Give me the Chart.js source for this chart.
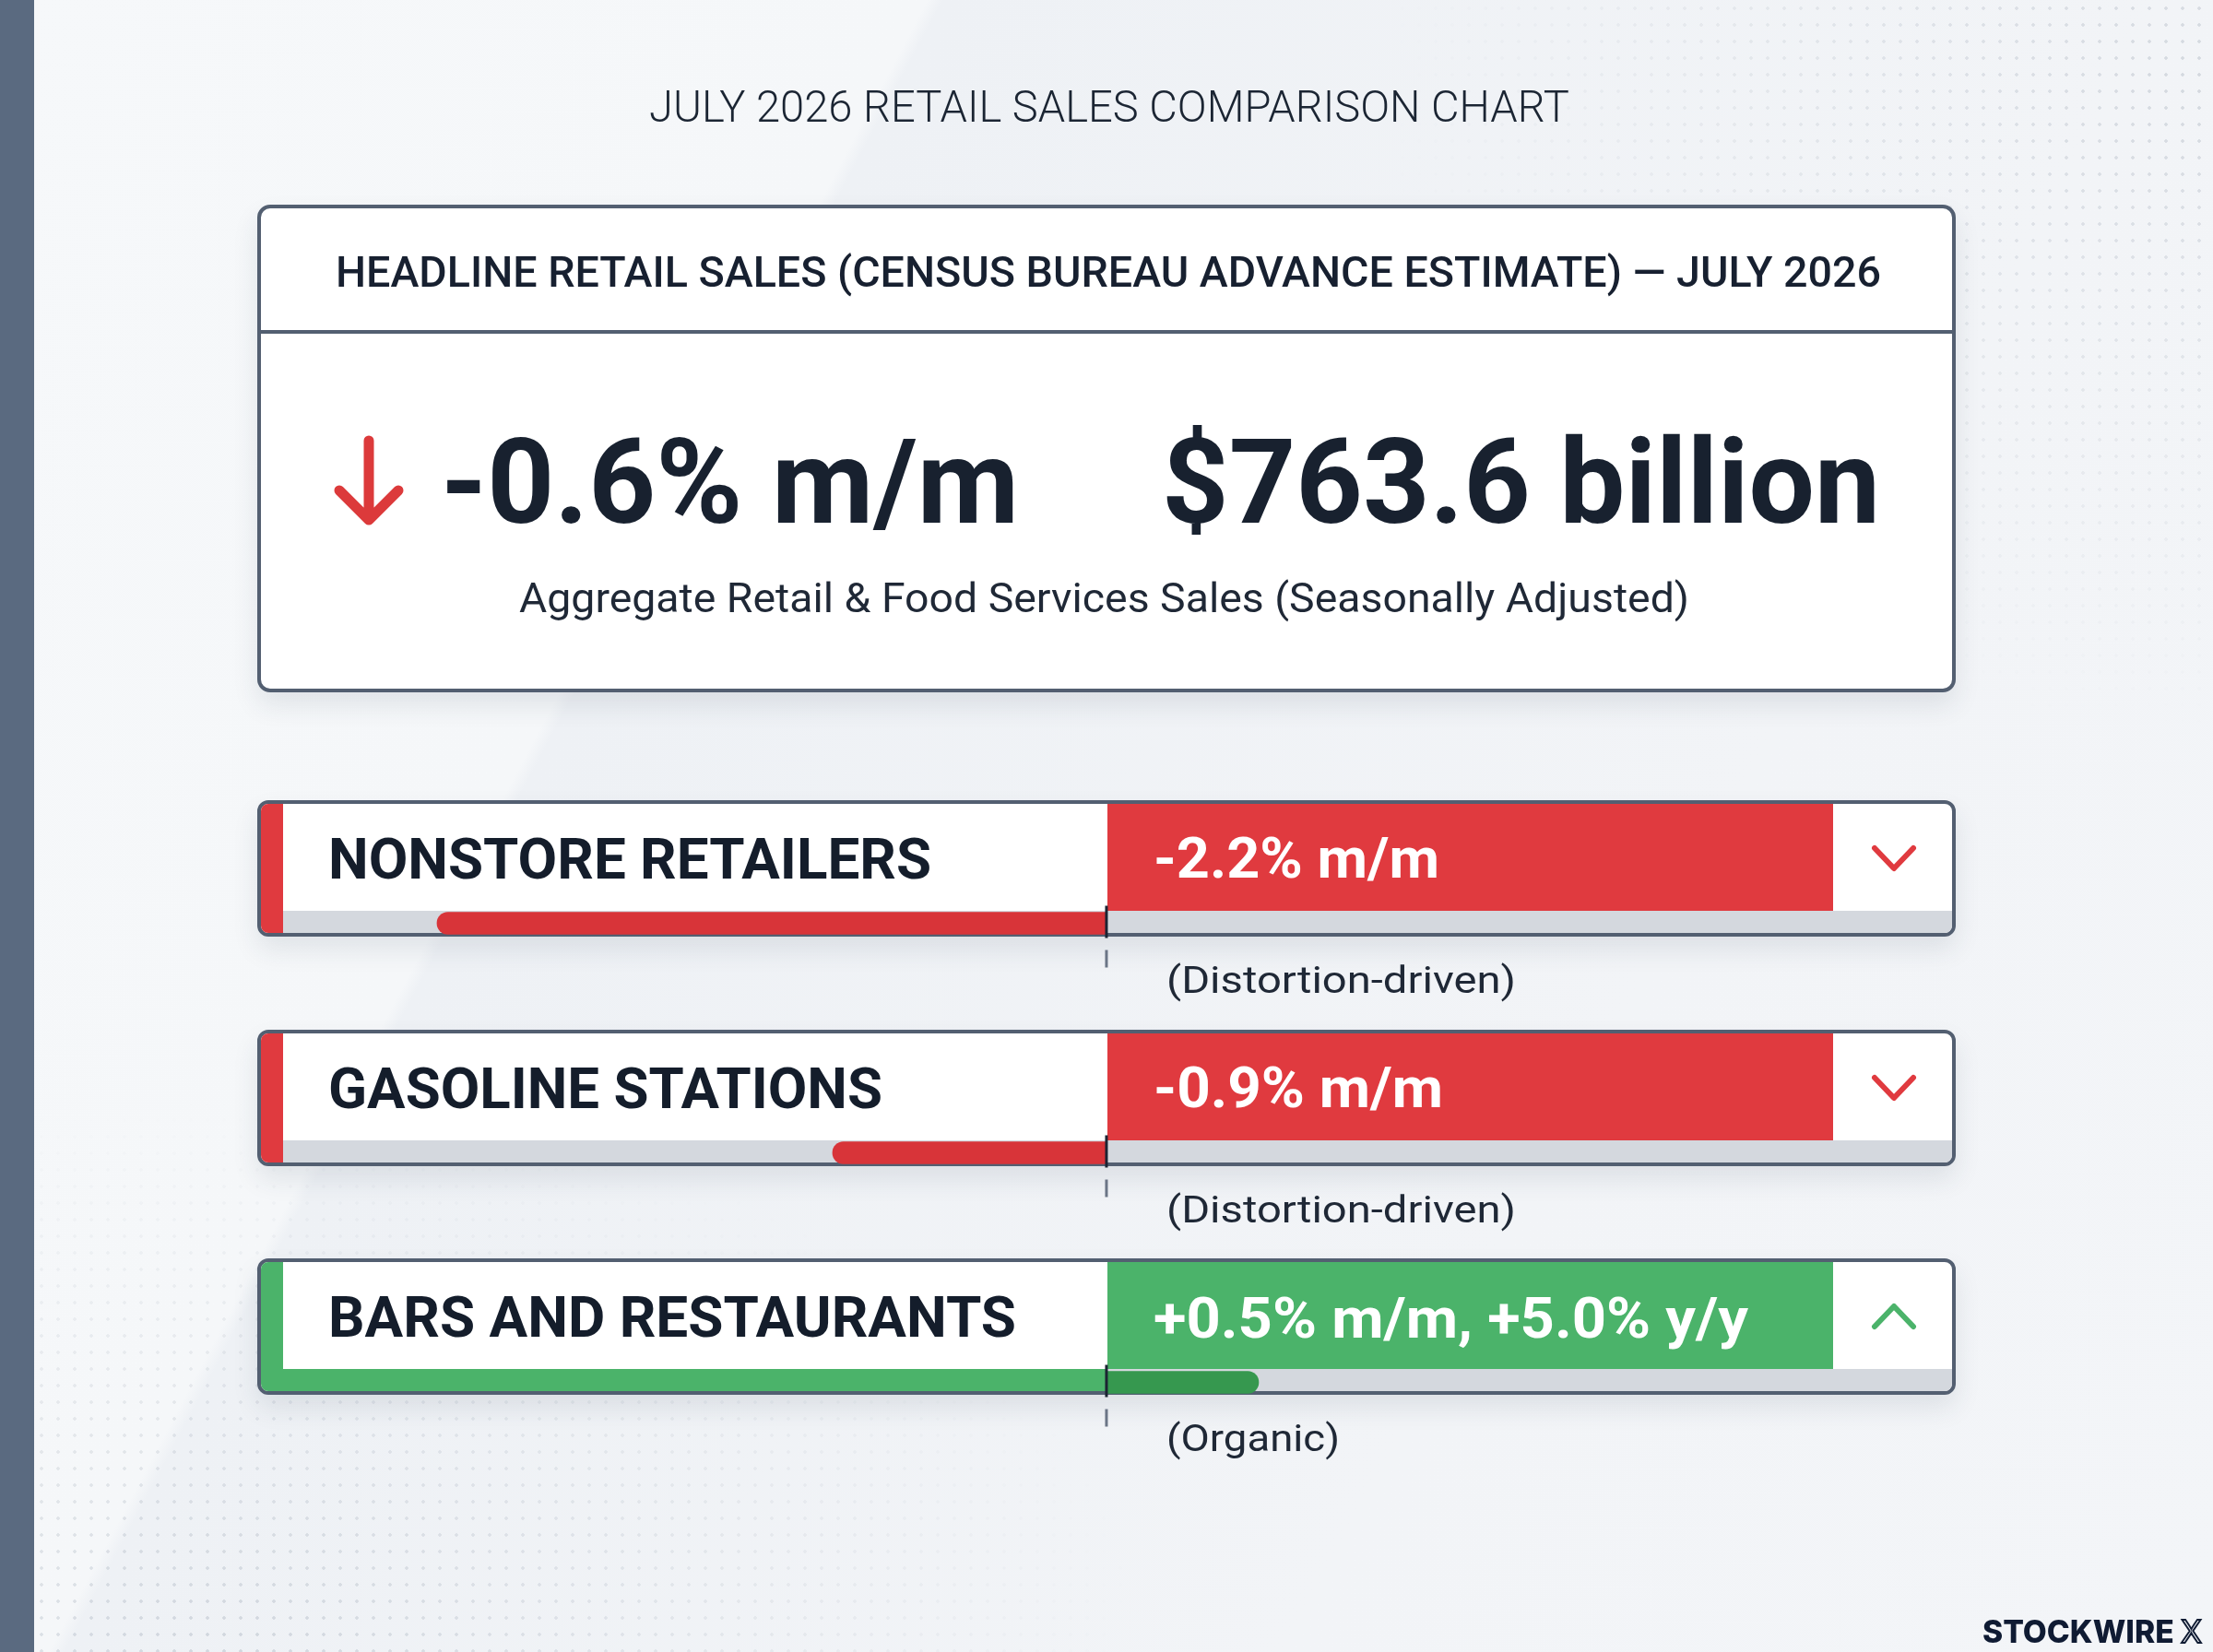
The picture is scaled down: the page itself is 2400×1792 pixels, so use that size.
<!DOCTYPE html>
<html>
<head>
<meta charset="utf-8">
<script src="https://cdn.jsdelivr.net/npm/chart.js@4.4.1/dist/chart.umd.min.js"></script>
<style>
html, body { margin: 0; padding: 0; }
body {
    width: 2400px; height: 1792px; position: relative; overflow: hidden;
    background: #f1f3f6; font-family: Roboto, "Noto Sans", sans-serif; color: #172030;
}
.bg {
    position: absolute; inset: 0;
    background: linear-gradient(118deg, #f6f8fa 0%, #f5f7f9 30%, #eef1f5 30.5%, #f2f4f7 70%, #f3f5f8 100%);
}
.dots {
    position: absolute; inset: 0;
    background-image: radial-gradient(circle, rgba(105, 120, 140, 0.22) 1.5px, transparent 2px);
    background-size: 18px 18px;
    -webkit-mask-image: radial-gradient(ellipse 900px 700px at 100% 5%, #000 0%, transparent 100%),
                        radial-gradient(ellipse 1000px 600px at 10% 100%, #000 0%, transparent 100%);
}
.strip { position: absolute; left: 0; top: 0; width: 37px; height: 1792px; background: #5a6a80; }
.t { position: absolute; white-space: nowrap; line-height: 1; transform-origin: 0 0; }
.card {
    position: absolute; box-sizing: border-box; background: #fff;
    border: 4px solid #535f71; border-radius: 14px;
    box-shadow: 0 14px 28px rgba(40, 55, 80, 0.10);
    overflow: hidden;
}
.head { position: absolute; left: 0; right: 0; top: 0; height: 132px; border-bottom: 4px solid #535f71; }
.stripe { position: absolute; left: 0; top: 0; bottom: 0; width: 24px; }
.track { position: absolute; left: 24px; right: 0; bottom: 0; height: 24px; background: #d4d8de; }
.vbox { position: absolute; left: 918px; width: 787px; top: 0; bottom: 24px; }
#bars { position: absolute; left: 306px; top: 877px; z-index: 5; pointer-events: none; }
svg { position: absolute; overflow: visible; }
</style>
</head>
<body>
<div class="bg"></div>
<div class="dots"></div>
<div class="strip"></div>

<div class="card" style="left:279px; top:222px; width:1842px; height:529px;">
    <div class="head"></div>
</div>

<div id="rows"></div>
<canvas id="bars" width="1812" height="747"></canvas>

<script>
// 数据
const chartTitle = 'JULY 2026 RETAIL SALES COMPARISON CHART';
const headlineTitle = 'HEADLINE RETAIL SALES (CENSUS BUREAU ADVANCE ESTIMATE) — JULY 2026';
const headlineChange = '-0.6% m/m';
const headlineLevel = '$763.6 billion';
const headlineNote = 'Aggregate Retail & Food Services Sales (Seasonally Adjusted)';

const categories = ['NONSTORE RETAILERS', 'GASOLINE STATIONS', 'BARS AND RESTAURANTS'];
const momChange = [-2.2, -0.9, 0.5];
const valueLabels = ['-2.2% m/m', '-0.9% m/m', '+0.5% m/m, +5.0% y/y'];
const notes = ['(Distortion-driven)', '(Distortion-driven)', '(Organic)'];

// 版式
const RED = '#e03a3f', RED_BAR = '#d83439', GREEN = '#4bb36a', GREEN_BAR = '#36984f';
const rowTops = [868, 1117, 1365];
const labelW = [654, 601, 746];
const valueW = [310, 314, 645];
const noteW = [379, 379, 188];

// 文字：按大写字母中线定位，再横向缩放到目标宽度
function addText(txt, x, capY, size, weight, color, targetW, family) {
    const el = document.createElement('div');
    el.className = 't';
    el.textContent = txt;
    el.style.left = x + 'px';
    el.style.top = (capY - 0.486 * size) + 'px';
    el.style.fontSize = size + 'px';
    el.style.fontWeight = weight;
    el.style.color = color;
    if (family) el.style.fontFamily = family;
    el.style.zIndex = 6;
    document.body.appendChild(el);
    const w = el.getBoundingClientRect().width;
    if (targetW && w > 0) el.style.transform = 'scaleX(' + (targetW / w) + ')';
    return el;
}

addText(chartTitle, 704, 115, 49, 300, '#1b2533', 998);
addText(headlineTitle, 364, 294, 47, 500, '#172030', 1676);
addText(headlineChange, 478, 521, 128, 700, '#18212f', 627);
addText(headlineLevel, 1260, 521, 128, 700, '#18212f', 779);
addText(headlineNote, 563, 648, 44, 400, '#1f2836', 1269);

// 红色下箭头
document.body.insertAdjacentHTML('beforeend',
    '<svg style="left:359px;top:472px;z-index:6" width="82" height="98">' +
    '<path d="M41 6 L41 90 M9 60 L41 92 L73 60" fill="none" stroke="#dc3a3b" stroke-width="11" stroke-linecap="round" stroke-linejoin="round"/></svg>');

// 分项卡片
const rowsEl = document.getElementById('rows');
categories.forEach((name, i) => {
    const up = momChange[i] >= 0;
    const col = up ? GREEN : RED;
    const T = rowTops[i];
    const card = document.createElement('div');
    card.className = 'card';
    card.style.cssText = 'left:279px;top:' + T + 'px;width:1842px;height:148px;border-radius:12px;';
    const trackBg = up ? 'linear-gradient(to right,' + GREEN + ' 0 894px,#d4d8de 894px)' : '#d4d8de';
    card.innerHTML =
        '<div class="stripe" style="background:' + col + '"></div>' +
        '<div class="vbox" style="background:' + col + '"></div>' +
        '<div class="track" style="background:' + trackBg + '"></div>';
    rowsEl.appendChild(card);

    addText(name, 356, T + 63, 62, 700, '#141d2b', labelW[i]);
    addText(valueLabels[i], 1251, T + (up ? 65 : 63), 61, 700, '#ffffff', valueW[i]);
    addText(notes[i], 1265, T + 195, 40, 400, '#1f2836', noteW[i]);

    const pts = up ? '4,27 25,5 46,27' : '4,5 25,27 46,5';
    document.body.insertAdjacentHTML('beforeend',
        '<svg style="left:2029px;top:' + (T + 47) + 'px;z-index:6" width="50" height="32">' +
        '<polyline points="' + pts + '" fill="none" stroke="' + col + '" stroke-width="6" stroke-linecap="round" stroke-linejoin="round"/></svg>');
});

// 品牌
const logo = addText('STOCKWIRE ', 2150, 1770, 34, 800, '#0f1b33', null, 'Inter');
logo.insertAdjacentHTML('beforeend', '<span style="color:transparent;-webkit-text-stroke:2px #0f1b33;font-weight:400">X</span>');
logo.style.transform = 'scaleX(' + (238 / logo.getBoundingClientRect().width) + ')';

// 中线标记
const centerMarks = {
    id: 'centerMarks',
    afterDatasetsDraw(chart) {
        const { ctx, scales: { x, y } } = chart;
        const x0 = x.getPixelForValue(0);
        ctx.save();
        ctx.lineWidth = 3;
        categories.forEach((c, i) => {
            const yc = y.getPixelForValue(i);
            ctx.strokeStyle = '#1c2433';
            ctx.beginPath(); ctx.moveTo(x0, yc - 19); ctx.lineTo(x0, yc + 16); ctx.stroke();
            ctx.strokeStyle = '#6b7586';
            ctx.beginPath(); ctx.moveTo(x0, yc + 29); ctx.lineTo(x0, yc + 48); ctx.stroke();
        });
        ctx.restore();
    }
};

// 进度条图表
const ctx = document.getElementById('bars').getContext('2d');
const barChart = new Chart(ctx, {
    type: 'bar',
    data: {
        labels: categories,
        datasets: [{
            data: momChange,
            backgroundColor: momChange.map(v => v >= 0 ? GREEN_BAR : RED_BAR),
            barThickness: 24,
            borderRadius: 12,
            borderSkipped: 'start'
        }]
    },
    options: {
        indexAxis: 'y',
        responsive: false,
        animation: false,
        devicePixelRatio: 1,
        layout: { padding: 0 },
        plugins: {
            legend: { display: false }, // 隐藏图例
            tooltip: { enabled: false }
        },
        scales: {
            x: { type: 'linear', min: -2.709, max: 2.782, display: false },
            y: { type: 'category', offset: true, display: false }
        }
    },
    plugins: [centerMarks]
});
</script>
</body>
</html>
